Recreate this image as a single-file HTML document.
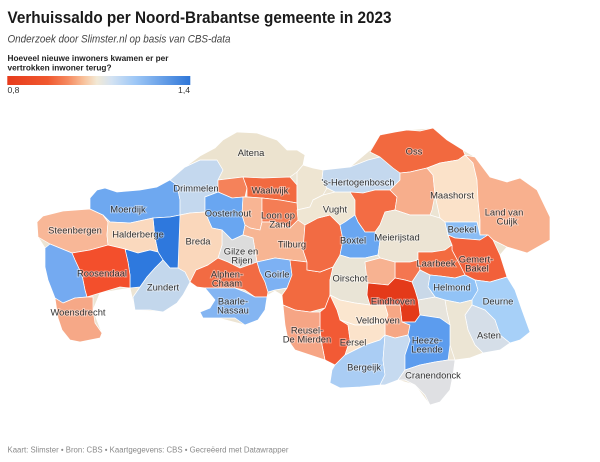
<!DOCTYPE html>
<html><head><meta charset="utf-8"><style>
html,body{margin:0;padding:0;background:#fff;}
svg{display:block;}
text{font-family:"Liberation Sans",Arial,sans-serif;}
.m polygon{stroke:#fff;stroke-width:0.7;stroke-linejoin:round;}
.lb text{font-size:9.4px;fill:#333;text-anchor:middle;stroke:#fff;stroke-opacity:0.45;stroke-width:1.8px;paint-order:stroke;}
</style></head><body>
<svg width="600" height="462" viewBox="0 0 600 462" xmlns="http://www.w3.org/2000/svg">
<defs>
<linearGradient id="lg" x1="0" x2="1" y1="0" y2="0">
<stop offset="0" stop-color="#e73b1c"/>
<stop offset="0.22" stop-color="#f0582f"/>
<stop offset="0.33" stop-color="#f5895f"/>
<stop offset="0.42" stop-color="#f8c39d"/>
<stop offset="0.49" stop-color="#f2e9d6"/>
<stop offset="0.57" stop-color="#d3e2f2"/>
<stop offset="0.70" stop-color="#9dc7f6"/>
<stop offset="1" stop-color="#2f76d8"/>
</linearGradient>
</defs>
<rect width="600" height="462" fill="#fff"/>
<text x="7.5" y="23" font-size="17" font-weight="bold" fill="#1a1a1a" textLength="384" lengthAdjust="spacingAndGlyphs">Verhuissaldo per Noord-Brabantse gemeente in 2023</text>
<text x="7.5" y="42.5" font-size="10.6" font-style="italic" fill="#444" textLength="223" lengthAdjust="spacingAndGlyphs">Onderzoek door Slimster.nl op basis van CBS-data</text>
<text x="7.5" y="61" font-size="8.6" font-weight="bold" fill="#222" textLength="161" lengthAdjust="spacingAndGlyphs">Hoeveel nieuwe inwoners kwamen er per</text>
<text x="7.5" y="70.7" font-size="8.6" font-weight="bold" fill="#222" textLength="104" lengthAdjust="spacingAndGlyphs">vertrokken inwoner terug?</text>
<rect x="7.3" y="76" width="183" height="9" fill="url(#lg)"/>
<text x="7.5" y="93" font-size="8.6" fill="#333">0,8</text>
<text x="190" y="93" font-size="8.6" fill="#333" text-anchor="end">1,4</text>

<g class="m">
<polygon fill="#ece4d3" stroke="none" points="37,222 43,216 63,211 90,209 90,198 97,190 117,192 140,190 157,187 170,180 185,167 200,156 215,148 223,140 237,132 257,133 277,140 287,150 297,150 305,155 303,165 323,170 350,167 370,150 380,135 407,130 433,128 447,140 463,150 475,157 490,177 507,182 520,178 537,190 550,217 550,240 527,253 507,247 500,255 507,277 515,290 530,332 510,343 483,353 455,360 453,375 440,402 430,405 415,385 398,380 380,385 340,388 330,383 335,365 325,360 295,350 288,340 283,305 282,295 275,291 268,295 265,310 245,325 218,318 203,318 200,312 210,308 215,300 205,288 197,287 190,282 177,303 163,312 135,310 130,288 100,293 93,310 102,333 100,338 80,342 62,330 58,318 55,298 48,280 45,267 45,248 38,237"/>
<!-- Steenbergen -->
<polygon fill="#f8b797" points="37,222 43,216 63,211 90,209 103,215 108,222 107,235 108,245 90,250 72,253 50,244 38,237"/>
<!-- Moerdijk -->
<polygon fill="#6ea8f0" points="90,198 97,190 105,188 117,192 140,190 157,187 170,180 177,185 180,200 180,215 170,217 153,218 130,223 110,222 103,215 90,209"/>
<!-- Drimmelen -->
<polygon fill="#c4d8ee" points="170,180 185,167 200,160 217,160 223,170 218,180 218,192 205,197 205,212 190,213 180,215 180,200 177,185"/>
<!-- Altena -->
<polygon fill="#ece3cf" points="185,167 200,156 215,148 223,140 237,132 257,133 277,140 287,150 297,150 305,155 303,165 297,172 290,177 263,178 243,177 218,180 223,170 217,160 200,160"/>
<!-- Geertruidenberg -->
<polygon fill="#f5825a" points="218,180 243,177 247,188 245,197 232,198 218,192"/>
<!-- Waalwijk -->
<polygon fill="#f26a40" points="243,177 263,178 290,177 297,185 297,203 280,200 262,198 247,197 247,188"/>
<!-- Heusden -->
<polygon fill="#eee5d2" points="297,172 303,165 313,168 323,170 322,180 327,188 323,195 313,200 310,207 297,210 297,185"/>
<!-- Oosterhout -->
<polygon fill="#69a6f1" points="205,197 218,192 232,198 243,197 242,215 245,225 243,235 232,240 222,230 212,228 205,212"/>
<!-- Dongen -->
<polygon fill="#f8b594" points="243,197 247,197 262,198 262,222 260,230 250,228 245,225 242,215"/>
<!-- Loon op Zand -->
<polygon fill="#f47d55" points="262,198 280,200 297,203 298,220 290,228 275,222 262,222"/>
<!-- Tilburg -->
<polygon fill="#f7b593" points="245,225 250,228 260,230 262,222 275,222 290,228 298,220 305,225 303,250 307,262 290,260 275,258 257,262 255,250 253,238 243,235"/>
<!-- Gilze en Rijen -->
<polygon fill="#dcdcdc" points="222,230 232,240 243,235 253,238 255,250 257,262 240,268 228,262 218,258 222,245"/>
<!-- Breda -->
<polygon fill="#fad7bb" points="178,217 180,215 190,213 205,212 212,228 222,230 222,245 218,258 208,265 196,270 190,282 185,272 178,268"/>
<!-- Etten-Leur -->
<polygon fill="#2e78dd" points="153,218 170,217 180,215 178,268 170,268 163,260 158,252 155,238"/>
<!-- Halderberge -->
<polygon fill="#fad9be" points="103,215 110,222 130,223 153,218 155,238 158,252 150,250 138,253 125,249 108,245 107,235 108,222"/>
<!-- Rucphen -->
<polygon fill="#2e79de" points="125,249 138,253 150,250 158,252 163,260 155,268 147,277 140,287 130,288 130,275 128,262"/>
<!-- Zundert -->
<polygon fill="#c3d7ec" points="140,287 147,277 155,268 163,260 170,268 178,268 185,272 190,282 183,295 177,303 163,312 150,310 135,310 133,297"/>
<!-- Roosendaal -->
<polygon fill="#f34f2c" points="72,253 90,250 108,245 125,249 128,262 130,275 130,288 120,287 100,293 87,297 85,290 82,275 75,260"/>
<!-- Bergen op Zoom -->
<polygon fill="#74aaf1" points="45,248 50,244 72,253 75,260 82,275 85,290 87,297 75,298 63,303 55,298 48,280 45,267"/>
<!-- Woensdrecht -->
<polygon fill="#f6a887" points="55,298 63,303 75,298 87,297 93,297 93,310 95,323 102,333 100,338 80,342 70,340 62,330 58,318"/>
<!-- Alphen-Chaam -->
<polygon fill="#f26b43" points="190,282 196,270 208,265 218,258 228,262 240,268 257,262 260,272 265,282 268,292 267,297 255,297 245,290 235,288 217,288 205,288 197,287"/>
<!-- Baarle-Nassau -->
<polygon fill="#84b5f2" points="205,288 217,288 235,288 245,292 255,297 267,297 265,310 258,320 245,325 235,318 218,318 203,318 200,312 210,308 215,300"/>
<!-- Goirle -->
<polygon fill="#7db1f3" points="257,262 275,258 290,260 292,275 287,288 275,290 268,292 265,282 260,272"/>
<!-- Hilvarenbeek -->
<polygon fill="#f26a40" points="290,260 307,262 307,270 320,272 333,267 330,280 330,295 325,308 310,312 295,310 283,305 282,295 287,288 292,275"/>
<!-- Oisterwijk -->
<polygon fill="#f26b43" points="305,225 318,218 330,215 340,225 343,240 340,255 333,267 320,272 307,270 307,262 303,250"/>
<!-- Vught -->
<polygon fill="#efe6d3" points="297,210 310,207 313,200 323,195 335,192 350,192 355,200 355,215 345,222 340,225 330,215 318,218 305,225 298,220"/>
<!-- 's-Hertogenbosch -->
<polygon fill="#c4d8ee" points="322,180 323,170 350,167 368,160 380,157 393,160 400,170 400,180 390,190 375,190 363,193 350,192 335,192 327,188"/>
<!-- Sint-Michielsgestel -->
<polygon fill="#f36c44" points="350,192 363,193 375,190 390,190 397,197 395,210 385,212 380,225 375,232 365,232 358,222 355,215 355,200"/>
<!-- Boxtel -->
<polygon fill="#69a6f1" points="340,225 345,222 355,215 358,222 365,232 375,232 380,240 378,255 365,258 350,258 340,255 343,240"/>
<!-- Oss -->
<polygon fill="#f2693f" points="370,152 380,135 395,132 407,130 420,131 433,128 447,140 463,150 465,155 458,160 440,163 427,168 410,172 400,173 393,168 380,157"/>
<!-- Bernheze -->
<polygon fill="#f7ae8c" points="390,190 400,180 400,173 410,172 427,168 433,175 435,195 432,210 430,215 410,215 395,210 397,197"/>
<!-- Meierijstad -->
<polygon fill="#ece4d4" points="375,232 380,225 385,212 395,210 410,215 430,215 440,218 445,222 448,235 452,245 445,250 432,252 418,252 418,260 410,262 395,262 380,258 378,255 380,240"/>
<!-- Maashorst -->
<polygon fill="#fbe2c9" points="427,168 440,163 458,160 465,155 473,163 477,180 478,200 480,220 480,235 477,222 445,222 440,218 435,195 433,175"/>
<!-- Land van Cuijk -->
<polygon fill="#f8b08e" points="465,155 475,157 490,177 507,182 520,178 537,190 550,217 550,240 527,253 507,247 493,240 488,235 480,235 480,220 478,200 477,180 473,163"/>
<!-- Boekel -->
<polygon fill="#8abdf5" points="445,222 477,222 480,235 488,235 480,240 455,238 448,235"/>
<!-- Gemert-Bakel -->
<polygon fill="#f2603a" points="448,235 455,238 480,240 488,235 493,240 500,255 507,277 490,282 475,280 465,275 460,265 452,250 452,245"/>
<!-- Laarbeek -->
<polygon fill="#f36b40" points="418,252 432,252 445,250 452,245 452,250 460,265 465,275 455,278 440,276 430,275 420,270 418,260"/>
<!-- Helmond -->
<polygon fill="#92c3f6" points="430,275 440,276 455,278 465,275 475,280 478,290 472,300 460,303 445,300 435,297 428,287"/>
<!-- Deurne -->
<polygon fill="#a7d0f8" points="475,280 490,282 507,277 515,290 522,310 530,332 520,340 510,343 500,335 495,320 485,310 472,305 472,300 478,290"/>
<!-- Asten -->
<polygon fill="#d5dee8" points="472,305 485,310 495,320 500,335 510,343 500,350 483,353 475,345 468,330 465,315"/>
<!-- Someren -->
<polygon fill="#ece5d4" points="445,300 460,303 472,300 472,305 465,315 468,330 475,345 483,353 470,358 455,360 450,345 450,325 447,312"/>
<!-- Geldrop-Mierlo -->
<polygon fill="#e7e4dc" points="418,300 435,297 445,300 447,312 450,325 440,318 420,315"/>
<!-- Son en Breugel -->
<polygon fill="#f47650" points="395,262 410,262 418,260 420,270 412,282 405,280 395,278"/>
<!-- Nuenen -->
<polygon fill="#c9d8e8" points="420,270 430,275 428,287 435,297 418,300 415,290 412,282"/>
<!-- Oirschot -->
<polygon fill="#e9e4d6" points="333,267 340,255 350,258 365,258 378,255 380,258 365,262 367,280 368,283 367,295 370,305 355,303 340,300 330,295 330,280"/>
<!-- Best -->
<polygon fill="#f7b291" points="365,262 380,258 395,262 395,278 388,285 368,283 367,280"/>
<!-- Eindhoven -->
<polygon fill="#e43a1a" points="368,283 388,285 395,278 405,280 412,282 415,290 418,300 420,315 415,322 402,322 400,305 385,305 370,305 367,295"/>
<!-- Veldhoven -->
<polygon fill="#fbe6cf" points="330,295 340,300 355,303 370,305 385,305 388,315 385,322 370,325 355,325 340,320 337,310"/>
<!-- Waalre -->
<polygon fill="#f6a785" points="385,305 400,305 402,322 410,325 408,335 395,338 385,335 385,322 388,315"/>
<!-- Bladel -->
<polygon fill="#f25a35" points="320,312 325,308 330,295 337,310 340,320 348,325 350,340 345,355 335,365 325,360 322,345 320,330"/>
<!-- Reusel-De Mierden -->
<polygon fill="#f6a585" points="283,305 295,310 310,312 320,312 320,330 322,345 325,360 310,355 295,350 288,340 285,325"/>
<!-- Eersel -->
<polygon fill="#fbe3cb" points="340,320 355,325 370,325 385,322 385,335 380,340 365,345 355,350 345,355 350,340 348,325"/>
<!-- Bergeijk -->
<polygon fill="#aacdf4" points="345,355 355,350 365,345 380,340 385,335 383,360 385,375 380,385 360,387 340,388 330,383 332,370 335,365"/>
<!-- Valkenswaard -->
<polygon fill="#c6daf0" points="385,335 395,338 408,335 410,340 405,355 405,370 398,380 385,385 380,385 385,375 383,360"/>
<!-- Heeze-Leende -->
<polygon fill="#5c9cee" points="402,322 415,322 420,315 440,318 450,325 450,345 448,360 435,362 420,365 405,370 405,355 410,340 408,335 410,325"/>
<!-- Cranendonck -->
<polygon fill="#dfe0e3" points="405,370 420,365 435,362 448,360 455,360 453,375 450,390 440,402 430,405 425,395 415,385 405,380 398,380"/>
</g>

<g class="lb">
<text x="251" y="156">Altena</text>
<text x="414" y="154.5">Oss</text>
<text x="358" y="185.5">'s-Hertogenbosch</text>
<text x="196" y="191.5">Drimmelen</text>
<text x="270" y="193.5">Waalwijk</text>
<text x="452" y="198.5">Maashorst</text>
<text x="128" y="212.5">Moerdijk</text>
<text x="228" y="216.5">Oosterhout</text>
<text x="278" y="218.5">Loon op</text>
<text x="280" y="227.5">Zand</text>
<text x="335" y="212.5">Vught</text>
<text x="504" y="215.5">Land van</text>
<text x="507" y="224.5">Cuijk</text>
<text x="75" y="233.5">Steenbergen</text>
<text x="138" y="237.5">Halderberge</text>
<text x="198" y="244.5">Breda</text>
<text x="241" y="254.5">Gilze en</text>
<text x="242" y="263.5">Rijen</text>
<text x="292" y="247.5">Tilburg</text>
<text x="353" y="243.5">Boxtel</text>
<text x="397" y="240.5">Meierijstad</text>
<text x="462" y="232.5">Boekel</text>
<text x="436" y="266.5">Laarbeek</text>
<text x="476" y="262.5">Gemert-</text>
<text x="477" y="271.5">Bakel</text>
<text x="102" y="276.5">Roosendaal</text>
<text x="227" y="277.5">Alphen-</text>
<text x="227" y="286.5">Chaam</text>
<text x="277" y="277.5">Goirle</text>
<text x="350" y="281.5">Oirschot</text>
<text x="163" y="290.5">Zundert</text>
<text x="452" y="290.5">Helmond</text>
<text x="393" y="304.5">Eindhoven</text>
<text x="233" y="304.5">Baarle-</text>
<text x="233" y="313.5">Nassau</text>
<text x="498" y="304.5">Deurne</text>
<text x="378" y="323.5">Veldhoven</text>
<text x="78" y="315.5">Woensdrecht</text>
<text x="307" y="333.5">Reusel-</text>
<text x="307" y="342.5">De Mierden</text>
<text x="353" y="345.5">Eersel</text>
<text x="427" y="343.5">Heeze-</text>
<text x="427" y="352.5">Leende</text>
<text x="489" y="338.5">Asten</text>
<text x="364" y="370.5">Bergeijk</text>
<text x="433" y="378.5">Cranendonck</text>
</g>

<text x="7.5" y="452.5" font-size="8" fill="#8a8a8a" textLength="281" lengthAdjust="spacingAndGlyphs">Kaart: Slimster • Bron: CBS • Kaartgegevens: CBS • Gecreëerd met Datawrapper</text>
</svg>
</body></html>
